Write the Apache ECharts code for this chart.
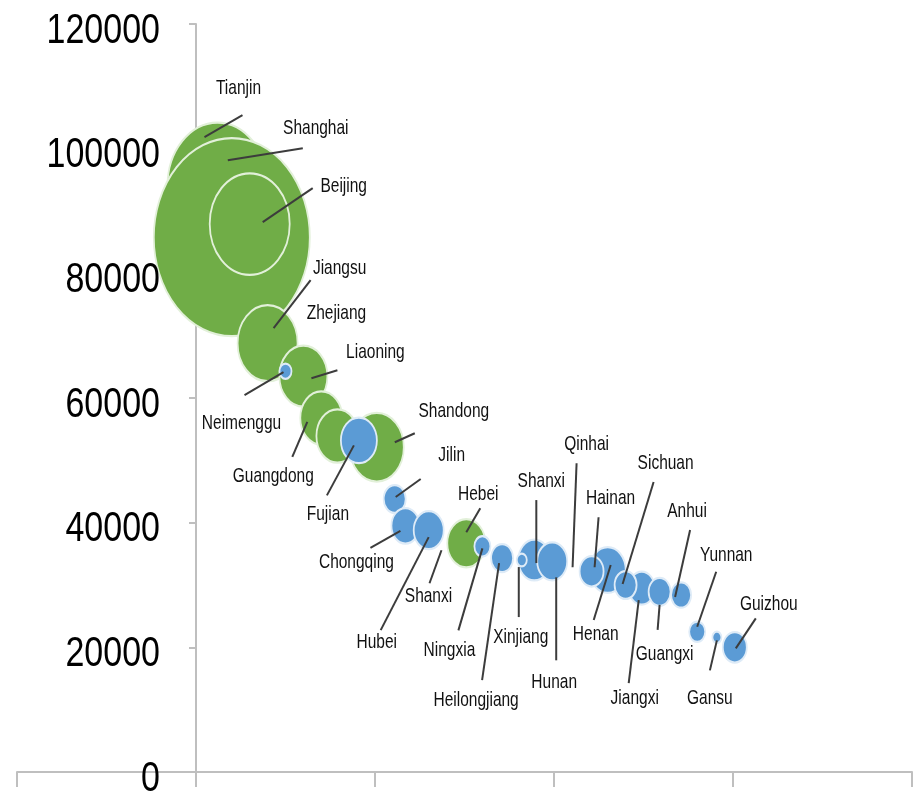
<!DOCTYPE html>
<html>
<head>
<meta charset="utf-8">
<script src="https://cdn.jsdelivr.net/npm/echarts@6/dist/echarts.min.js"></script>
<style>
  html, body { margin: 0; padding: 0; background: #ffffff; }
  #chart { width: 917px; height: 795px; }
</style>
</head>
<body>
<div id="chart"></div>
<script>
// Provinces, listed in drawing order (later bubbles sit on top).
const provinces = [
  'Tianjin', 'Shanghai', 'Beijing', 'Jiangsu', 'Liaoning', 'Neimenggu', 'Guangdong',
  'Zhejiang', 'Shandong', 'Fujian', 'Jilin', 'Chongqing', 'Shanxi', 'Hubei', 'Hebei',
  'Ningxia', 'Heilongjiang', 'Qinhai', 'Shanxi', 'Xinjiang', 'Hunan', 'Henan', 'Hainan',
  'Jiangxi', 'Sichuan', 'Guangxi', 'Anhui', 'Yunnan', 'Gansu', 'Guizhou'
];
// Horizontal position of each bubble.
const xValues = [
  0.12, 0.20, 0.30, 0.40, 0.60, 0.50, 0.70,
  0.79, 1.01, 0.91, 1.11, 1.17, 1.31, 1.30, 1.51,
  1.60, 1.71, 2.02, 1.89, 1.82, 1.99, 2.30, 2.21,
  2.49, 2.40, 2.59, 2.71, 2.80, 2.91, 3.01
];
// Per-capita GDP (yuan).
const gdpPerCapita = [
  94000, 85800, 87900, 68800, 63500, 64300, 56800,
  53900, 52100, 53200, 43800, 39500, 38300, 38800, 36700,
  36200, 34300, 34600, 34000, 34000, 33800, 32400, 32200,
  29500, 30000, 28900, 28400, 22500, 21600, 20000
];
// Bubble weight (area of each bubble is proportional to it).
const bubbleWeight = [
  2500, 6084, 1600, 900, 576, 36, 441,
  441, 729, 324, 121, 196, 100, 225, 361,
  64, 121, 64, 256, 25, 225, 324, 144,
  169, 121, 121, 100, 64, 20, 144
];
// Colour group: 1 = green, 2 = blue.
const colourGroup = [
  1, 1, 1, 1, 1, 2, 1,
  1, 1, 2, 2, 2, 2, 2, 1,
  2, 2, 2, 2, 2, 2, 2, 2,
  2, 2, 2, 2, 2, 2, 2
];
const yTicks = [0, 20000, 40000, 60000, 80000, 100000, 120000];
const yTickLabels = ['0', '20000', '40000', '60000', '80000', '100000', '120000'];

// Label placement: text centre offset from the bubble centre, in pixels.
const labelOffset = [
  [21, -98], [84, -109], [94, -38], [72, -75], [72, -24], [-44, 52], [-48, 59],
  [-1, -123], [77, -36], [-31, 74], [57, -43], [-49, 37], [-2, 63], [-52, 112], [12, -49],
  [-33, 104], [-26, 142], [29, -112], [7, -79], [-1, 77], [2, 121], [-12, 64], [19, -73],
  [-7, 110], [40, -121], [5, 63], [6, -83], [29, -76], [-7, 61], [34, -43]
];
// Leader line ends, relative to the bubble centre: [x1, y1, x2, y2].
const leaderLine = [
  [-13, -49, 25, -71], [-4, -77, 71, -89], [13, -2, 63, -36], [6, -15, 43, -63],
  [8, 2, 34, -6], [-2, 1, -41, 24], [-14, 4, -29, 39],
  null, [18, -5, 38, -14], [-5, 5, -32, 55], [1, -2, 26, -20], [-5, 5, -35, 22],
  [11, 17, -1, 50], [0, 7, -48, 100], [0, -11, 14, -35],
  [0, 2, -24, 84], [-3, 5, -20, 122], [15, 11, 19, -93], [2, 3, 2, -60], [-3, 7, -3, 57],
  [4, 16, 4, 99], [3, -5, -14, 50], [3, -4, 7, -54],
  [-3, 12, -13, 95], [-3, -1, 28, -103], [0, 13, -2, 38], [-6, 2, 9, -65],
  [0, -5, 19, -60], [0, 3, -7, 33], [1, 1, 21, -29]
];

const GREEN = '#70ad47', BLUE = '#5b9bd5';
const GREEN_EDGE = '#e2f0d9', BLUE_EDGE = '#deebf7';
const STRETCH = 1.27;        // bubbles are drawn as upright ellipses
const TEXT_STRETCH = 1.28;   // text is drawn tall and narrow to suit
const FONT = "'Liberation Sans', Arial, sans-serif";

const bubbleData = xValues.map((x, i) => ({
  value: [x, gdpPerCapita[i]],
  itemStyle: {
    color: colourGroup[i] === 1 ? GREEN : BLUE,
    borderColor: colourGroup[i] === 1 ? GREEN_EDGE : BLUE_EDGE
  }
}));
const labelData = xValues.map((x, i) => [x, gdpPerCapita[i]]);
const yLabelData = yTicks.map((v) => [0, v]);

const chart = echarts.init(document.getElementById('chart'), null, { renderer: 'canvas' });
chart.setOption({
  animation: false,
  backgroundColor: '#ffffff',
  grid: { left: 17, right: 5, top: 24, bottom: 23, containLabel: false, outerBoundsMode: 'none' },
  xAxis: {
    type: 'value', min: -1, max: 4, interval: 1,
    axisLine: { onZero: false, lineStyle: { color: '#bfbfbf', width: 2 } },
    axisTick: { show: true, length: 15, lineStyle: { color: '#bfbfbf', width: 2 } },
    axisLabel: { show: false },
    splitLine: { show: false }
  },
  yAxis: {
    type: 'value', min: 0, max: 120000, interval: 20000,
    axisLine: { show: true, onZero: true, lineStyle: { color: '#bfbfbf', width: 2 } },
    axisTick: { show: true, length: 7, lineStyle: { color: '#bfbfbf', width: 2 } },
    axisLabel: { show: false },
    splitLine: { show: false }
  },
  series: [
    {
      type: 'scatter',
      data: bubbleData,
      silent: true,
      symbol: 'circle',
      symbolSize: (val, params) => {
        const d = 2 * Math.sqrt(bubbleWeight[params.dataIndex]);
        return [d, d * STRETCH];
      },
      itemStyle: { borderWidth: 2, opacity: 1 }
    },
    {
      // province names with leader lines
      type: 'custom',
      data: labelData,
      silent: true,
      clip: false,
      z: 5,
      renderItem: (params, api) => {
        const i = params.dataIndex;
        const c = api.coord([api.value(0), api.value(1)]);
        const children = [];
        const seg = leaderLine[i];
        if (seg) {
          children.push({
            type: 'line',
            shape: { x1: c[0] + seg[0], y1: c[1] + seg[1], x2: c[0] + seg[2], y2: c[1] + seg[3] },
            style: { stroke: '#3c3c3c', lineWidth: 2 }
          });
        }
        children.push({
          type: 'text',
          x: c[0] + labelOffset[i][0],
          y: c[1] + labelOffset[i][1],
          scaleY: TEXT_STRETCH,
          style: {
            text: provinces[i], fill: '#111111', fontSize: 15.5, fontFamily: FONT,
            align: 'center', verticalAlign: 'middle'
          }
        });
        return { type: 'group', children };
      }
    },
    {
      // value-axis tick labels
      type: 'custom',
      data: yLabelData,
      silent: true,
      clip: false,
      z: 5,
      renderItem: (params, api) => {
        const c = api.coord([api.value(0), api.value(1)]);
        return {
          type: 'text',
          x: c[0] - 36,
          y: c[1] + 7,
          scaleY: 1.23,
          style: {
            text: yTickLabels[params.dataIndex], fill: '#000000', fontSize: 34, fontFamily: FONT,
            align: 'right', verticalAlign: 'middle'
          }
        };
      }
    }
  ]
});
</script>
</body>
</html>
